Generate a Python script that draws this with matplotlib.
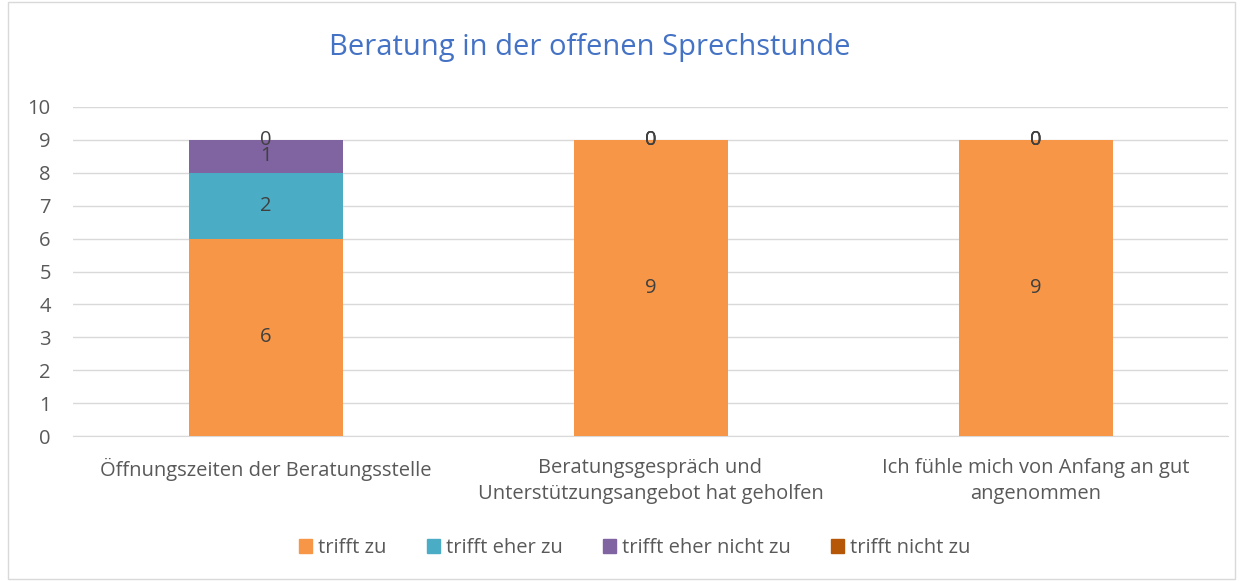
import matplotlib
matplotlib.use("Agg")
import matplotlib.pyplot as plt
import numpy as np
from matplotlib.patches import Rectangle

categories = ["Öffnungszeiten der Beratungsstelle",
              "Beratungsgespräch und\nUnterstützungsangebot hat geholfen",
              "Ich fühle mich von Anfang an gut\nangenommen"]
series_names = ["trifft zu", "trifft eher zu", "trifft eher nicht zu", "trifft nicht zu"]
trifft_zu = [6, 9, 9]
trifft_eher_zu = [2, 0, 0]
trifft_eher_nicht_zu = [1, 0, 0]
trifft_nicht_zu = [0, 0, 0]
series_values = [trifft_zu, trifft_eher_zu, trifft_eher_nicht_zu, trifft_nicht_zu]
colors = ["#F79646", "#4BACC6", "#8064A2", "#B65708"]
yticks = list(range(0, 11))

plt.rcParams['font.family'] = ['Open Sans', 'DejaVu Sans']
fig = plt.figure(figsize=(12.43, 5.81), dpi=100)
ax = fig.add_axes([73/1243, 1 - 436/581, 1155/1243, 329/581])

fs = 14.5
x = np.arange(len(categories))
bottom = np.zeros(len(categories))
text_color = "#404040"
for name, vals, c in zip(series_names, series_values, colors):
    vals = np.array(vals, dtype=float)
    ax.bar(x, vals, 0.4, bottom=bottom, color=c, label=name, zorder=3)
    for xi, v, b in zip(x, vals, bottom):
        ax.text(xi, b + v / 2, f"{int(v)}", ha="center", va="center",
                fontsize=fs, color=text_color, zorder=4)
    bottom += vals

ax.set_xlim(-0.5, 2.5)
ax.set_ylim(0, 10)
ax.set_yticks(yticks)
ax.set_yticklabels([str(t) for t in yticks], fontsize=fs, color="#595959")
ax.yaxis.grid(True, color="#D9D9D9", linewidth=1, zorder=0)
ax.set_xticks(x)
ax.set_xticklabels(categories, fontsize=fs, color="#595959", linespacing=1.4)
ax.tick_params(axis="both", length=0)
ax.tick_params(axis="y", pad=16)
ax.tick_params(axis="x", pad=16)
for s in ["top", "right", "left"]:
    ax.spines[s].set_visible(False)
ax.spines["bottom"].set_color("#D9D9D9")

fig.text(590/1243, 1 - 48/581, "Beratung in der offenen Sprechstunde",
         ha="center", va="center", fontsize=21, color="#4472C4")

handles = [Rectangle((0, 0), 1, 1, color=c) for c in colors]
fig.legend(handles, series_names, loc="center", bbox_to_anchor=(635/1243, 1 - 548/581),
           ncol=4, frameon=False, fontsize=fs, handlelength=0.65, handleheight=0.65,
           handletextpad=0.3, columnspacing=2.0, labelcolor="#595959")

border = Rectangle((8/1243, 2/581), 1 - 16/1243, 1 - 4/581, transform=fig.transFigure,
                   fill=False, edgecolor="#D9D9D9", linewidth=1)
fig.patches.append(border)

fig.savefig("out.png", dpi=100)
